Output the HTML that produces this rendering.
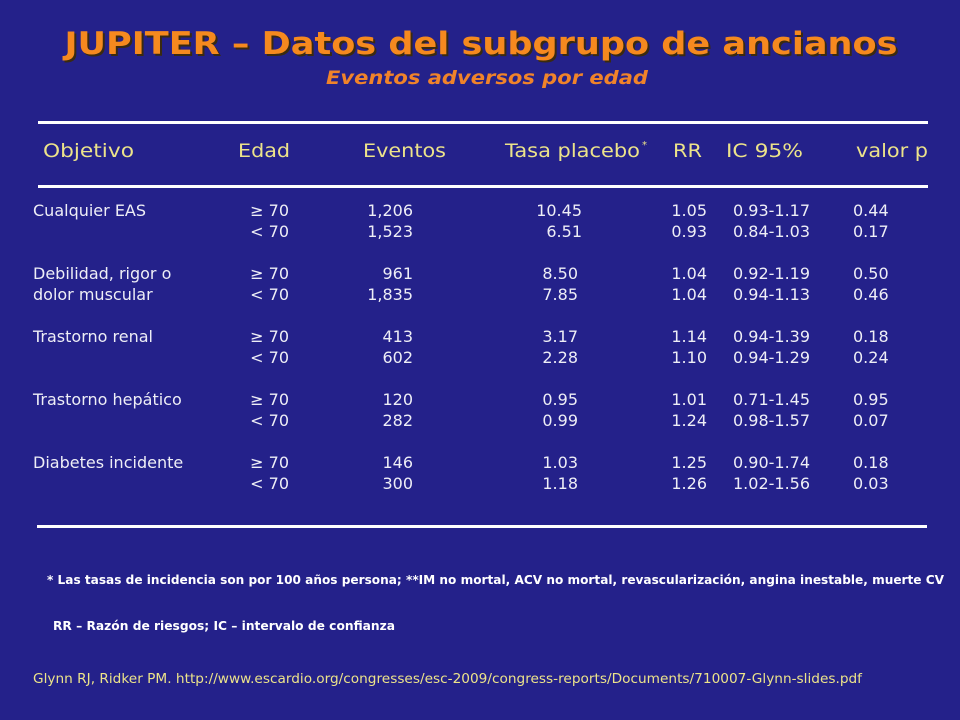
<!DOCTYPE html>
<html><head><meta charset="utf-8"><style>
html,body{margin:0;padding:0;background:#24218a;}
svg{display:block}
text{font-family:"DejaVu Sans","Liberation Sans",sans-serif}
</style></head><body>
<svg width="960" height="720" viewBox="0 0 960 720">
<rect x="0" y="0" width="960" height="720" fill="#24218a"/>
<g>
<text x="483" y="56" text-anchor="middle" font-size="31" font-weight="bold" fill="#3a2a10" textLength="833" lengthAdjust="spacingAndGlyphs">JUPITER – Datos del subgrupo de ancianos</text>
<text x="481" y="54" text-anchor="middle" font-size="31" font-weight="bold" fill="#f5891f" textLength="833" lengthAdjust="spacingAndGlyphs">JUPITER – Datos del subgrupo de ancianos</text>
</g>
<text x="487" y="84" text-anchor="middle" font-size="19" font-weight="bold" font-style="italic" fill="#f0832a" textLength="322" lengthAdjust="spacingAndGlyphs">Eventos adversos por edad</text>
<rect x="38" y="121" width="890" height="3" fill="#fff"/>
<rect x="38" y="185" width="890" height="3" fill="#fff"/>
<rect x="37" y="525" width="890" height="3" fill="#fff"/>
<g fill="#ece38a" font-size="19">
<text x="43" y="157" textLength="91" lengthAdjust="spacingAndGlyphs">Objetivo</text>
<text x="238" y="157" textLength="52" lengthAdjust="spacingAndGlyphs">Edad</text>
<text x="363" y="157" textLength="83" lengthAdjust="spacingAndGlyphs">Eventos</text>
<text x="505" y="157" textLength="135" lengthAdjust="spacingAndGlyphs">Tasa placebo</text>
<text x="642" y="148" font-size="10">*</text>
<text x="673" y="157" textLength="29" lengthAdjust="spacingAndGlyphs">RR</text>
<text x="726" y="157" textLength="77" lengthAdjust="spacingAndGlyphs">IC 95%</text>
<text x="856" y="157" textLength="72" lengthAdjust="spacingAndGlyphs">valor p</text>
</g>
<g fill="#eeeef6" font-size="16">
<text x="33" y="216">Cualquier EAS</text>
<text x="33" y="279">Debilidad, rigor o</text>
<text x="33" y="300">dolor muscular</text>
<text x="33" y="342">Trastorno renal</text>
<text x="33" y="405">Trastorno hepático</text>
<text x="33" y="468">Diabetes incidente</text>
<g text-anchor="end">
<text x="289" y="216">≥ 70</text><text x="289" y="237">&lt; 70</text>
<text x="289" y="279">≥ 70</text><text x="289" y="300">&lt; 70</text>
<text x="289" y="342">≥ 70</text><text x="289" y="363">&lt; 70</text>
<text x="289" y="405">≥ 70</text><text x="289" y="426">&lt; 70</text>
<text x="289" y="468">≥ 70</text><text x="289" y="489">&lt; 70</text>
<text x="413" y="216">1,206</text><text x="413" y="237">1,523</text>
<text x="413" y="279">961</text><text x="413" y="300">1,835</text>
<text x="413" y="342">413</text><text x="413" y="363">602</text>
<text x="413" y="405">120</text><text x="413" y="426">282</text>
<text x="413" y="468">146</text><text x="413" y="489">300</text>
<text x="582" y="216">10.45</text><text x="582" y="237">6.51</text>
<text x="578" y="279">8.50</text><text x="578" y="300">7.85</text>
<text x="578" y="342">3.17</text><text x="578" y="363">2.28</text>
<text x="578" y="405">0.95</text><text x="578" y="426">0.99</text>
<text x="578" y="468">1.03</text><text x="578" y="489">1.18</text>
<text x="707" y="216">1.05</text><text x="707" y="237">0.93</text>
<text x="707" y="279">1.04</text><text x="707" y="300">1.04</text>
<text x="707" y="342">1.14</text><text x="707" y="363">1.10</text>
<text x="707" y="405">1.01</text><text x="707" y="426">1.24</text>
<text x="707" y="468">1.25</text><text x="707" y="489">1.26</text>
</g>
<g>
<text x="733" y="216">0.93-1.17</text><text x="733" y="237">0.84-1.03</text>
<text x="733" y="279">0.92-1.19</text><text x="733" y="300">0.94-1.13</text>
<text x="733" y="342">0.94-1.39</text><text x="733" y="363">0.94-1.29</text>
<text x="733" y="405">0.71-1.45</text><text x="733" y="426">0.98-1.57</text>
<text x="733" y="468">0.90-1.74</text><text x="733" y="489">1.02-1.56</text>
<text x="853" y="216">0.44</text><text x="853" y="237">0.17</text>
<text x="853" y="279">0.50</text><text x="853" y="300">0.46</text>
<text x="853" y="342">0.18</text><text x="853" y="363">0.24</text>
<text x="853" y="405">0.95</text><text x="853" y="426">0.07</text>
<text x="853" y="468">0.18</text><text x="853" y="489">0.03</text>
</g>
</g>
<text x="47" y="584" font-size="12" font-weight="bold" fill="#fff" textLength="897" lengthAdjust="spacingAndGlyphs">* Las tasas de incidencia  son por 100  años persona;  **IM no mortal, ACV no mortal, revascularización,  angina inestable,  muerte CV</text>
<text x="53" y="630" font-size="12" font-weight="bold" fill="#fff" textLength="342" lengthAdjust="spacingAndGlyphs">RR – Razón de riesgos; IC – intervalo de confianza</text>
<text x="33" y="683" font-size="13" fill="#ece38a" textLength="829" lengthAdjust="spacingAndGlyphs">Glynn RJ, Ridker PM. http://www.escardio.org/congresses/esc-2009/congress-reports/Documents/710007-Glynn-slides.pdf</text>
</svg>
</body></html>
